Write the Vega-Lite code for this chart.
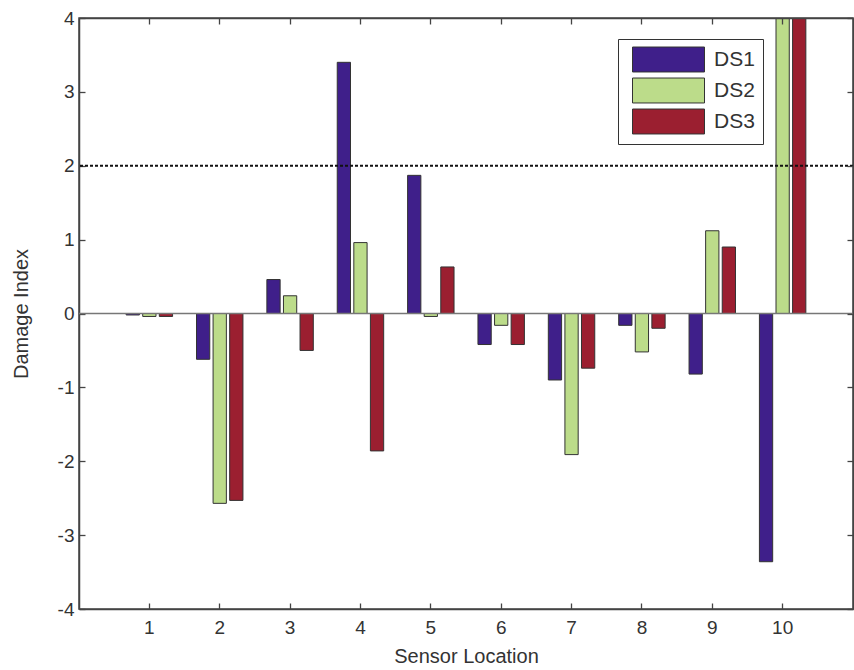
{
  "$schema": "https://vega.github.io/schema/vega-lite/v6.json",
  "autosize": "none",
  "width": 774,
  "height": 591,
  "padding": {"left": 79, "top": 18, "right": 1, "bottom": 61},
  "background": "white",
  "config": {
    "font": "Liberation Sans",
    "view": {"stroke": "#444", "strokeWidth": 1.5},
    "axis": {"grid": false, "domainColor": "#444", "domainWidth": 1.5, "tickColor": "#444", "tickWidth": 1.3, "tickSize": -6, "labelFont": "Liberation Sans", "labelFontSize": 19, "labelColor": "#333", "titleFont": "Liberation Sans", "titleFontSize": 20, "titleFontWeight": "normal", "titleColor": "#333"}
  },
  "datasets": {
    "bars": [
      {"sensor": "1", "series": "DS1", "value": -0.02},
      {"sensor": "1", "series": "DS2", "value": -0.04},
      {"sensor": "1", "series": "DS3", "value": -0.04},
      {"sensor": "2", "series": "DS1", "value": -0.62},
      {"sensor": "2", "series": "DS2", "value": -2.57},
      {"sensor": "2", "series": "DS3", "value": -2.53},
      {"sensor": "3", "series": "DS1", "value": 0.46},
      {"sensor": "3", "series": "DS2", "value": 0.24},
      {"sensor": "3", "series": "DS3", "value": -0.5},
      {"sensor": "4", "series": "DS1", "value": 3.4},
      {"sensor": "4", "series": "DS2", "value": 0.96},
      {"sensor": "4", "series": "DS3", "value": -1.86},
      {"sensor": "5", "series": "DS1", "value": 1.87},
      {"sensor": "5", "series": "DS2", "value": -0.04},
      {"sensor": "5", "series": "DS3", "value": 0.63},
      {"sensor": "6", "series": "DS1", "value": -0.42},
      {"sensor": "6", "series": "DS2", "value": -0.16},
      {"sensor": "6", "series": "DS3", "value": -0.42},
      {"sensor": "7", "series": "DS1", "value": -0.9},
      {"sensor": "7", "series": "DS2", "value": -1.91},
      {"sensor": "7", "series": "DS3", "value": -0.74},
      {"sensor": "8", "series": "DS1", "value": -0.16},
      {"sensor": "8", "series": "DS2", "value": -0.52},
      {"sensor": "8", "series": "DS3", "value": -0.2},
      {"sensor": "9", "series": "DS1", "value": -0.82},
      {"sensor": "9", "series": "DS2", "value": 1.12},
      {"sensor": "9", "series": "DS3", "value": 0.9},
      {"sensor": "10", "series": "DS1", "value": -3.36},
      {"sensor": "10", "series": "DS2", "value": 4.4},
      {"sensor": "10", "series": "DS3", "value": 4.5}
    ]
  },
  "layer": [
    {
      "data": {"name": "bars"},
      "mark": {"type": "bar", "clip": true, "stroke": "#333", "strokeWidth": 1},
      "encoding": {
        "x": {"field": "sensor", "type": "ordinal", "sort": ["1","2","3","4","5","6","7","8","9","10"], "scale": {"paddingInner": 0.34, "paddingOuter": 0.67},
              "axis": {"title": "Sensor Location", "labelAngle": 0, "labelPadding": 15, "titlePadding": 9}},
        "xOffset": {"field": "series", "type": "nominal", "scale": {"paddingInner": 0.2}},
        "y": {"field": "value", "type": "quantitative", "scale": {"domain": [-4, 4], "nice": false},
              "axis": {"title": "Damage Index", "values": [-4,-3,-2,-1,0,1,2,3,4], "labelExpr": "'' + datum.value", "labelPadding": 11, "titlePadding": 26}},
        "color": {"field": "series", "type": "nominal",
          "scale": {"domain": ["DS1", "DS2", "DS3"], "range": ["#3f1f8a", "#bcdc8a", "#9b1f30"]},
          "legend": {"title": null, "orient": "none", "legendX": 539, "legendY": 21, "direction": "vertical",
            "symbolType": "M-0.5,-1.04H5.5V1.04H-0.5Z", "symbolSize": 576, "symbolStrokeColor": "#333", "symbolStrokeWidth": 1,
            "labelFontSize": 21, "labelColor": "#333", "labelFont": "Liberation Sans", "rowPadding": 2, "labelOffset": 63,
            "strokeColor": "#333", "fillColor": "white", "padding": 8}}
      }
    },
    {
      "data": {"name": "bars"},
      "mark": {"type": "rule", "opacity": 0},
      "encoding": {
        "x": {"field": "sensor", "type": "ordinal", "sort": ["1","2","3","4","5","6","7","8","9","10"], "axis": {"orient": "top", "labels": false, "title": null, "zindex": 2}}
      }
    },
    {
      "data": {"values": [{"y": 0}]},
      "mark": {"type": "rule", "color": "#777", "strokeWidth": 1.5},
      "encoding": {"y": {"field": "y", "type": "quantitative", "axis": null}}
    },
    {
      "data": {"values": [{"y": 2}]},
      "mark": {"type": "rule", "color": "#111", "strokeWidth": 2, "strokeDash": [3, 2]},
      "encoding": {"y": {"field": "y", "type": "quantitative", "axis": {"orient": "right", "labels": false, "title": null, "values": [-4,-3,-2,-1,0,1,2,3,4], "zindex": 2}}}
    }
  ],
  "resolve": {"scale": {"x": "shared", "y": "shared"}, "axis": {"x": "independent", "y": "independent"}}
}
